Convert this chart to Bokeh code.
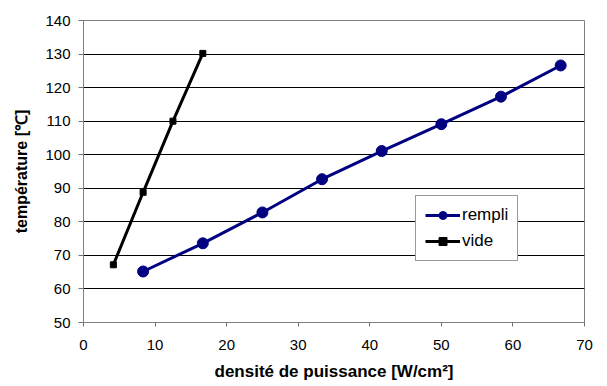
from bokeh.plotting import figure
from bokeh.models import Range1d, FixedTicker, Legend, LegendItem
from bokeh.embed import file_html
from bokeh.resources import INLINE

# Data
density_rempli = [8.33, 16.67, 25.0, 33.33, 41.67, 50.0, 58.33, 66.67]
temp_rempli = [65.2, 73.6, 82.8, 92.7, 101.1, 109.1, 117.3, 126.6]
density_vide = [4.17, 8.33, 12.5, 16.67]
temp_vide = [67.2, 88.8, 110.0, 130.2]
x_ticks = [0, 10, 20, 30, 40, 50, 60, 70]
y_ticks = [50, 60, 70, 80, 90, 100, 110, 120, 130, 140]

FONT = "Liberation Sans"

p = figure(width=600, height=386, output_backend="svg", toolbar_location=None,
           x_range=Range1d(0, 70), y_range=Range1d(50, 140),
           min_border_left=83, min_border_right=16, min_border_top=20,
           min_border_bottom=64)
p.background_fill_color = "white"
p.border_fill_color = "white"
p.outline_line_color = "#808080"
p.outline_line_width = 1

p.xgrid.visible = False
p.ygrid.grid_line_color = "black"
p.ygrid.grid_line_alpha = 1.0
p.ygrid.grid_line_width = 1

p.xaxis.ticker = FixedTicker(ticks=x_ticks)
p.yaxis.ticker = FixedTicker(ticks=y_ticks)
for ax in (p.xaxis[0], p.yaxis[0]):
    ax.axis_line_color = "#808080"
    ax.axis_line_width = 1
    ax.major_tick_line_color = "#707070"
    ax.major_tick_in = 0
    ax.minor_tick_line_color = None
    ax.major_label_text_font = FONT
    ax.major_label_text_font_size = "15px"
    ax.major_label_text_color = "black"
    ax.axis_label_text_font = FONT
    ax.axis_label_text_font_size = "16px"
    ax.axis_label_text_font_style = "bold"
    ax.axis_label_text_color = "black"

p.xaxis.major_tick_out = 4
p.yaxis.major_tick_out = 5
p.xaxis.major_label_standoff = 13
p.yaxis.major_label_standoff = 8
p.xaxis.axis_label = "densité de puissance [W/cm²]"
p.yaxis.axis_label = "température [℃]"
p.xaxis.axis_label_standoff = 9
p.yaxis.axis_label_standoff = 12
p.xaxis.axis_label_text_font_size = "17px"

r1 = p.line(density_rempli, temp_rempli, line_color="#000080", line_width=3)
c1 = p.scatter(density_rempli, temp_rempli, marker="circle", size=11,
               fill_color="#000080", line_color="#000080")
r2 = p.line(density_vide, temp_vide, line_color="black", line_width=3)
c2 = p.scatter(density_vide, temp_vide, marker="square", size=6,
               fill_color="black", line_color="black")

legend = Legend(items=[LegendItem(label="rempli", renderers=[r1, c1]),
                       LegendItem(label="vide", renderers=[r2, c2])],
                location=(332, 61))
legend.border_line_color = "#333333"
legend.border_line_width = 1
legend.background_fill_color = "white"
legend.background_fill_alpha = 1.0
legend.padding = 9
legend.spacing = 6
legend.margin = 0
legend.glyph_width = 35
legend.glyph_height = 20
legend.label_standoff = 2
legend.label_text_font = FONT
legend.label_text_font_size = "17px"
legend.label_text_color = "black"
p.add_layout(legend)

open("out.html", "w").write(file_html(p, INLINE))
